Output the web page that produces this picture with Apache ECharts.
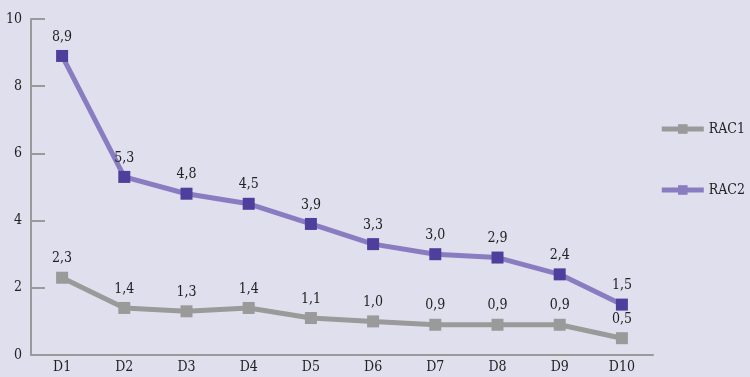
<!DOCTYPE html>
<html>
<head>
<meta charset="utf-8">
<script src="https://cdn.jsdelivr.net/npm/echarts@6/dist/echarts.min.js"></script>
<style>
  html, body { margin: 0; padding: 0; background: #e0dfee; }
  #chart { width: 750px; height: 377px; }
</style>
</head>
<body>
<div id="chart"></div>
<script>
  // data
  const categories = ['D1', 'D2', 'D3', 'D4', 'D5', 'D6', 'D7', 'D8', 'D9', 'D10'];
  const rac1 = [2.3, 1.4, 1.3, 1.4, 1.1, 1.0, 0.9, 0.9, 0.9, 0.5];
  const rac2 = [8.9, 5.3, 4.8, 4.5, 3.9, 3.3, 3.0, 2.9, 2.4, 1.5];

  const font = '"DejaVu Serif Condensed", "Liberation Serif", serif';
  const fmt = p => p.value.toFixed(1).replace('.', ',');

  const chart = echarts.init(document.getElementById('chart'));

  const option = {
    backgroundColor: '#e0dfee',
    textStyle: { fontFamily: font },
    legend: {
      orient: 'vertical',
      right: 0,
      top: 117,
      itemWidth: 42,
      itemHeight: 12,
      itemGap: 47,
      textStyle: { fontFamily: font, fontSize: 14, color: '#222' },
      data: [
        { name: 'RAC1', itemStyle: { color: '#9a9a9a' }, lineStyle: { width: 5, color: '#9a9a9a' } },
        { name: 'RAC2', itemStyle: { color: '#8a7cc0' }, lineStyle: { width: 5, color: '#8a7cc0' } }
      ]
    },
    grid: { left: 31, right: 97, top: 19, bottom: 22 },
    xAxis: {
      type: 'category',
      data: categories,
      boundaryGap: true,
      axisLine: { lineStyle: { color: '#9a9a9a', width: 2 } },
      axisTick: { inside: true, length: 8, lineStyle: { color: '#9a9a9a', width: 1 } },
      axisLabel: { color: '#222', fontSize: 14, fontFamily: font, margin: 5 }
    },
    yAxis: {
      type: 'value',
      min: 0,
      max: 10,
      interval: 2,
      splitLine: { show: false },
      axisLine: { show: true, lineStyle: { color: '#9a9a9a', width: 2 } },
      axisTick: { show: true, inside: true, length: 14, lineStyle: { color: '#9a9a9a', width: 2 } },
      axisLabel: { color: '#222', fontSize: 14, fontFamily: font, margin: 9 }
    },
    series: [
      {
        name: 'RAC1',
        type: 'line',
        data: rac1,
        symbol: 'rect',
        symbolSize: 12,
        color: '#9a9a9a',
        lineStyle: { color: '#9a9a9a', width: 5 },
        itemStyle: { color: '#9a9a9a' },
        label: { show: true, position: 'top', distance: 6, color: '#222', fontSize: 14, fontFamily: font, formatter: fmt }
      },
      {
        name: 'RAC2',
        type: 'line',
        data: rac2,
        symbol: 'rect',
        symbolSize: 12,
        color: '#8a7cc0',
        lineStyle: { color: '#8a7cc0', width: 5 },
        itemStyle: { color: '#4e3f9d' },
        label: { show: true, position: 'top', distance: 6, color: '#222', fontSize: 14, fontFamily: font, formatter: fmt }
      }
    ]
  };

  chart.setOption(option);
</script>
</body>
</html>
